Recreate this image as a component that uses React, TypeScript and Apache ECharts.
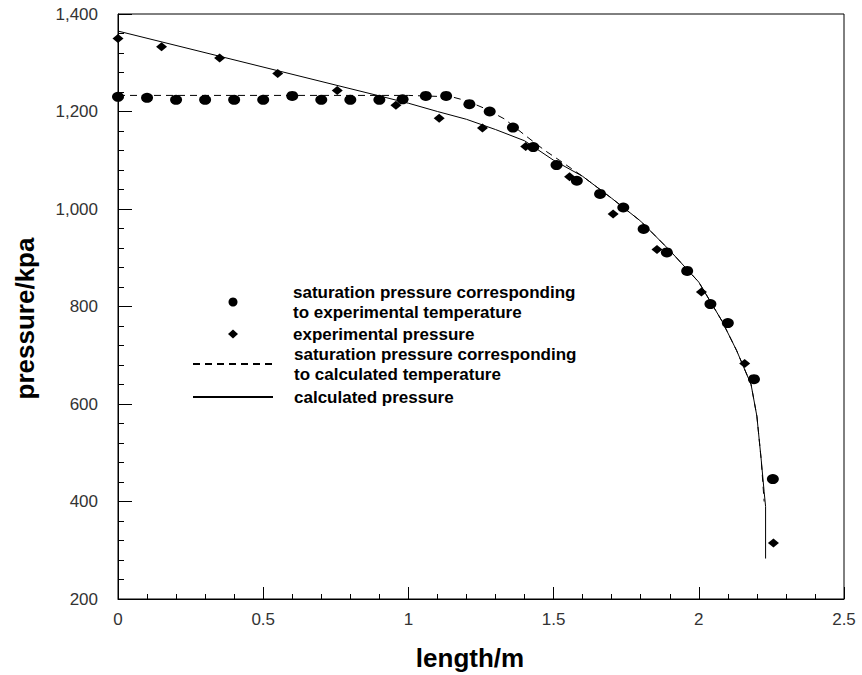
import React, { useEffect, useRef } from "react";
import * as echarts from "echarts";

// saturation pressure corresponding to experimental temperature (circles)
const satExpX = [0, 0.1, 0.2, 0.3, 0.4, 0.5, 0.6, 0.7, 0.8, 0.9, 0.98, 1.06, 1.13, 1.21, 1.28, 1.36, 1.43, 1.51, 1.58, 1.66, 1.74, 1.81, 1.89, 1.96, 2.04, 2.1, 2.19, 2.255];
const satExpY = [1230, 1228, 1224, 1224, 1224, 1224, 1232, 1224, 1224, 1224, 1225, 1232, 1232, 1215, 1200, 1167, 1127, 1090, 1058, 1031, 1003, 959, 911, 873, 805, 766, 651, 446];

// experimental pressure (diamonds)
const expX = [0, 0.15, 0.35, 0.55, 0.755, 0.957, 1.106, 1.255, 1.404, 1.555, 1.705, 1.856, 2.009, 2.158, 2.257];
const expY = [1350, 1333, 1310, 1278, 1243, 1213, 1186, 1166, 1128, 1066, 990, 917, 830, 683, 315];

// saturation pressure corresponding to calculated temperature (dashed)
const calcSatX = [0, 0.5, 1.0, 1.15, 1.2, 1.26, 1.33, 1.4, 1.47, 1.52, 1.6, 1.7, 1.8, 1.9, 2.0, 2.08, 2.13, 2.18, 2.2, 2.215, 2.225];
const calcSatY = [1233, 1233, 1233, 1230, 1222, 1207, 1185, 1152, 1120, 1100, 1067, 1022, 975, 915, 850, 770, 710, 640, 575, 485, 400];

// calculated pressure (solid)
const calcX = [0, 0.9, 1.0, 1.1, 1.2, 1.3, 1.4, 1.5, 1.6, 1.7, 1.8, 1.9, 2.0, 2.08, 2.13, 2.18, 2.2, 2.215, 2.225, 2.23, 2.23];
const calcY = [1365, 1232, 1217, 1200, 1184, 1163, 1140, 1100, 1067, 1022, 975, 915, 850, 770, 710, 640, 575, 485, 420, 390, 283];

const seriesNames = [
  "saturation pressure corresponding\nto experimental temperature",
  "experimental pressure",
  "saturation pressure corresponding\nto calculated temperature",
  "calculated pressure",
];

const pairs = (xs: number[], ys: number[]) => xs.map((x, i) => [x, ys[i]]);

export default function App() {
  const ref = useRef<HTMLDivElement>(null);
  useEffect(() => {
    if (!ref.current) return;
    const chart = echarts.init(ref.current, undefined, { renderer: "svg" });
    const font = "Liberation Sans, Arial, sans-serif";
    const tickLabel = { color: "#333", fontFamily: font, fontSize: 17 };
    const legendText = {
      color: "#000",
      fontFamily: font,
      fontWeight: "bold",
      fontSize: 17,
      lineHeight: 20,
    };
    chart.setOption({
      animation: false,
      backgroundColor: "#fff",
      grid: {
        left: 118,
        right: 18,
        top: 14,
        bottom: 76,
        show: true,
        borderColor: "#000",
        borderWidth: 1,
        outerBoundsMode: "none",
      },
      legend: [
        {
          orient: "vertical",
          left: 228,
          top: 282,
          padding: 0,
          itemWidth: 10,
          itemHeight: 9,
          itemGap: 2,
          data: [
            { name: seriesNames[0], icon: "circle" },
            { name: seriesNames[1], icon: "diamond" },
          ],
          textStyle: { ...legendText, padding: [0, 0, 0, 50] },
        },
        {
          orient: "vertical",
          left: 192,
          top: 344,
          padding: 0,
          itemWidth: 80,
          itemHeight: 10,
          itemGap: 3,
          data: [
            { name: seriesNames[2], itemStyle: { color: "rgba(0,0,0,0)", borderWidth: 0 } },
            { name: seriesNames[3], itemStyle: { color: "rgba(0,0,0,0)", borderWidth: 0 } },
          ],
          textStyle: { ...legendText, padding: [0, 0, 0, 16] },
        },
      ],
      xAxis: {
        type: "value",
        min: 0,
        max: 2.5,
        interval: 0.5,
        name: "length/m",
        nameLocation: "middle",
        nameGap: 46,
        nameTextStyle: {
          color: "#000",
          fontFamily: font,
          fontWeight: "bold",
          fontSize: 26,
          padding: [0, 22, 0, 0],
        },
        axisLine: { lineStyle: { color: "#000", width: 1 } },
        axisTick: { inside: true, length: 12, lineStyle: { color: "#000" } },
        minorTick: { show: true, splitNumber: 5, length: 5, lineStyle: { color: "#000" } },
        splitLine: { show: false },
        axisLabel: { ...tickLabel, margin: 12 },
      },
      yAxis: {
        type: "value",
        min: 200,
        max: 1400,
        interval: 200,
        name: "pressure/kpa",
        nameLocation: "middle",
        nameGap: 80,
        nameTextStyle: {
          color: "#000",
          fontFamily: font,
          fontWeight: "bold",
          fontSize: 26,
          padding: [0, 24, 0, 0],
        },
        axisLine: { show: true, lineStyle: { color: "#000", width: 1 } },
        axisTick: { show: true, inside: true, length: 14, lineStyle: { color: "#000" } },
        minorTick: { show: true, splitNumber: 5, length: 6, lineStyle: { color: "#000" } },
        splitLine: { show: false },
        axisLabel: {
          ...tickLabel,
          margin: 20,
          formatter: (v: number) => v.toLocaleString("en-US"),
        },
      },
      series: [
        {
          name: seriesNames[0],
          type: "scatter",
          symbol: "circle",
          symbolSize: [12, 10],
          itemStyle: { color: "#000", opacity: 1 },
          data: pairs(satExpX, satExpY),
          z: 5,
        },
        {
          name: seriesNames[1],
          type: "scatter",
          symbol: "diamond",
          symbolSize: [11, 9],
          itemStyle: { color: "#000", opacity: 1 },
          data: pairs(expX, expY),
          z: 5,
        },
        {
          name: seriesNames[2],
          type: "line",
          symbol: "none",
          lineStyle: { color: "#000", width: 1, type: [7, 5] },
          itemStyle: { color: "#000" },
          data: pairs(calcSatX, calcSatY),
        },
        {
          name: seriesNames[3],
          type: "line",
          symbol: "none",
          lineStyle: { color: "#000", width: 1, type: "solid" },
          itemStyle: { color: "#000" },
          data: pairs(calcX, calcY),
        },
      ],
    });
    return () => chart.dispose();
  }, []);
  return (
    <div
      ref={ref}
      style={{ position: "fixed", left: 0, top: 0, width: 862, height: 675, background: "#fff" }}
    />
  );
}
